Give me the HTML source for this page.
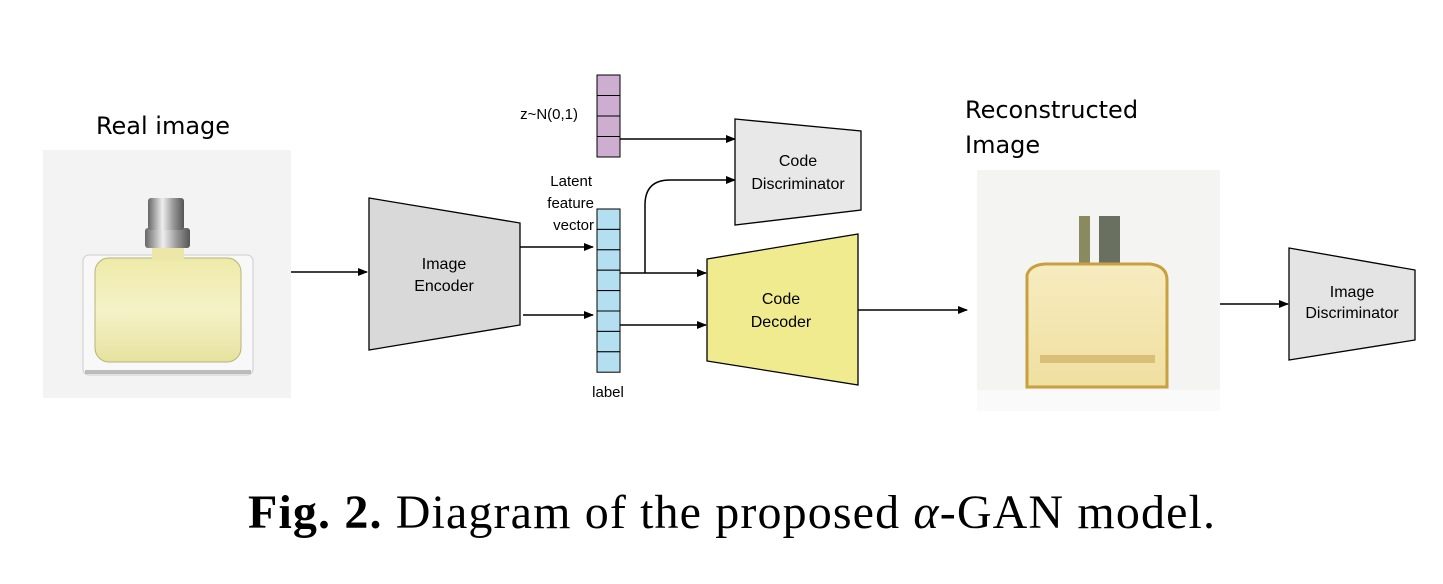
<!DOCTYPE html>
<html><head><style>
html,body{margin:0;padding:0;background:#fff;}
svg{display:block;}
</style></head><body>
<svg width="1443" height="584" viewBox="0 0 1443 584" xmlns="http://www.w3.org/2000/svg">
<defs>
<marker id="ah" markerWidth="10" markerHeight="10" refX="9" refY="5" orient="auto" markerUnits="userSpaceOnUse">
<path d="M0,1 L10,5 L0,9 Z" fill="#000"/></marker>
<linearGradient id="liq" x1="0" y1="0" x2="0" y2="1"><stop offset="0" stop-color="#eeeaa8"/><stop offset="0.5" stop-color="#f5f2c8"/><stop offset="1" stop-color="#e6e2a0"/></linearGradient>
<linearGradient id="cap" x1="0" y1="0" x2="1" y2="0"><stop offset="0" stop-color="#666"/><stop offset="0.4" stop-color="#eee"/><stop offset="0.7" stop-color="#999"/><stop offset="1" stop-color="#555"/></linearGradient>
<linearGradient id="liq2" x1="0" y1="0" x2="0" y2="1"><stop offset="0" stop-color="#f7ecc0"/><stop offset="1" stop-color="#f0dfa0"/></linearGradient>
</defs>
<g font-family="Liberation Sans, sans-serif" fill="#000">
<text x="163" y="134" font-size="24" text-anchor="middle" font-family="DejaVu Sans, sans-serif">Real image</text>
<rect x="43" y="150" width="248" height="248" fill="#f3f3f3"/>
<rect x="83" y="255" width="170" height="120" rx="6" fill="#f8f8f8" stroke="#ccc"/>
<rect x="95" y="258" width="146" height="104" rx="14" fill="url(#liq)" stroke="#b8b47a"/>
<rect x="152" y="246" width="32" height="14" fill="#ece7a8"/>
<rect x="145" y="228" width="45" height="20" rx="3" fill="url(#cap)"/>
<rect x="148" y="198" width="36" height="32" rx="3" fill="url(#cap)"/>
<rect x="85" y="370" width="166" height="4" fill="#bbb"/>
<line x1="291" y1="272" x2="367" y2="272" stroke="#000" stroke-width="1.5" marker-end="url(#ah)"/>
<polygon points="369,198 520,223 520,325 369,350" fill="#d9d9d9" stroke="#000" stroke-width="1.3"/>
<text x="444" y="269" font-size="16" text-anchor="middle">Image</text>
<text x="444" y="291" font-size="16" text-anchor="middle">Encoder</text>
<line x1="520" y1="247" x2="593" y2="247" stroke="#000" stroke-width="1.5" marker-end="url(#ah)"/>
<line x1="523" y1="315" x2="593" y2="315" stroke="#000" stroke-width="1.5" marker-end="url(#ah)"/>
<text x="578" y="119" font-size="15" text-anchor="end">z~N(0,1)</text>
<g fill="#cdaed0" stroke="#000" stroke-width="1">
<rect x="597" y="75" width="23" height="20.5"/><rect x="597" y="95.5" width="23" height="20.5"/><rect x="597" y="116" width="23" height="20.5"/><rect x="597" y="136.5" width="23" height="20.5"/>
</g>
<line x1="620" y1="139" x2="735" y2="139" stroke="#000" stroke-width="1.5" marker-end="url(#ah)"/>
<text x="592" y="186" font-size="15" text-anchor="end">Latent</text>
<text x="594" y="208" font-size="15" text-anchor="end">feature</text>
<text x="594" y="230" font-size="15" text-anchor="end">vector</text>
<g fill="#b3dff0" stroke="#000" stroke-width="1">
<rect x="597" y="209" width="23" height="20.4"/><rect x="597" y="229.4" width="23" height="20.4"/><rect x="597" y="249.8" width="23" height="20.4"/><rect x="597" y="270.2" width="23" height="20.4"/>
<rect x="597" y="290.6" width="23" height="20.4"/><rect x="597" y="311" width="23" height="20.4"/><rect x="597" y="331.4" width="23" height="20.4"/><rect x="597" y="351.8" width="23" height="20.4"/>
</g>
<text x="608" y="397" font-size="15" text-anchor="middle">label</text>
<path d="M645,273 L645,205 Q645,180 670,180 L735,180" fill="none" stroke="#000" stroke-width="1.5" marker-end="url(#ah)"/>
<line x1="620" y1="273" x2="706" y2="273" stroke="#000" stroke-width="1.5" marker-end="url(#ah)"/>
<line x1="620" y1="325" x2="706" y2="325" stroke="#000" stroke-width="1.5" marker-end="url(#ah)"/>
<polygon points="735,119 861,131 861,210 735,225" fill="#e8e8e8" stroke="#000" stroke-width="1.3"/>
<text x="798" y="166" font-size="16" text-anchor="middle">Code</text>
<text x="798" y="189" font-size="16" text-anchor="middle">Discriminator</text>
<polygon points="707,259 858,234 858,385 707,361" fill="#efeb8e" stroke="#000" stroke-width="1.3"/>
<text x="781" y="304" font-size="16" text-anchor="middle">Code</text>
<text x="781" y="327" font-size="16" text-anchor="middle">Decoder</text>
<line x1="858" y1="310" x2="967" y2="310" stroke="#000" stroke-width="1.5" marker-end="url(#ah)"/>
<text x="965" y="118" font-size="24" font-family="DejaVu Sans, sans-serif">Reconstructed</text>
<text x="965" y="153" font-size="24" font-family="DejaVu Sans, sans-serif">Image</text>
<rect x="977" y="170" width="243" height="241" fill="#f4f4f2"/>
<rect x="977" y="390" width="243" height="21" fill="#fafafa"/>
<rect x="1079" y="216" width="11" height="50" fill="#8a8a60"/>
<rect x="1099" y="216" width="21" height="50" fill="#6a7060"/>
<path d="M1027,275 Q1030,265 1045,264 L1150,264 Q1167,266 1167,280 L1167,387 L1027,387 Z" fill="url(#liq2)" stroke="#c8a040" stroke-width="3"/>
<rect x="1040" y="355" width="115" height="8" fill="#d8c078"/>
<line x1="1220" y1="304" x2="1288" y2="304" stroke="#000" stroke-width="1.5" marker-end="url(#ah)"/>
<polygon points="1289,248 1415,270 1415,340 1289,360" fill="#e4e4e4" stroke="#000" stroke-width="1.3"/>
<text x="1352" y="297" font-size="16" text-anchor="middle">Image</text>
<text x="1352" y="318" font-size="16" text-anchor="middle">Discriminator</text>
<text x="248" y="528" font-size="48" textLength="967" lengthAdjust="spacing" font-family="Liberation Serif, serif"><tspan font-weight="bold">Fig. 2.</tspan> Diagram of the proposed <tspan font-style="italic">α</tspan>-GAN model.</text>
</g>
</svg>
</body></html>
